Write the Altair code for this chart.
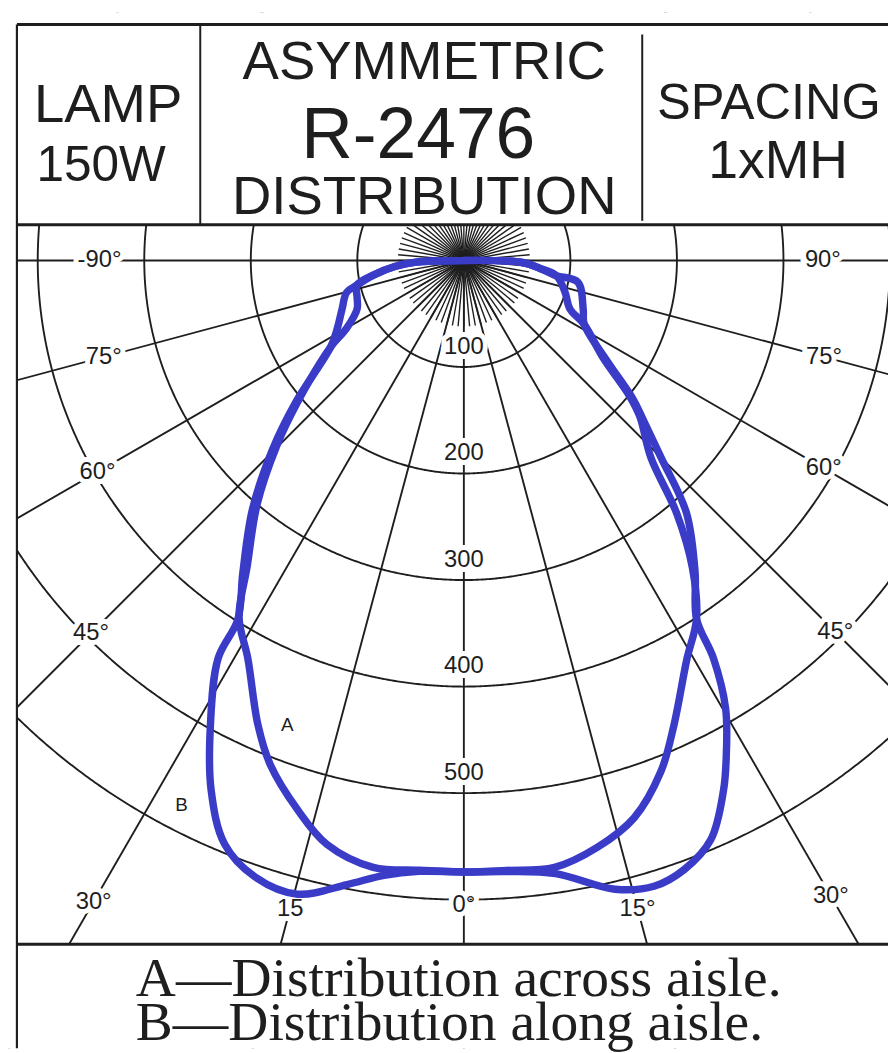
import altair as alt
import numpy as np
import pandas as pd

# ---------------- data ----------------
# angles in degrees from nadir (negative = left), intensities in candela
a_angle = [-90, -88, -85, -81, -77, -71, -65.6, -60, -57, -49.8, -45.3, -40.3, -35.3, -32.2,
           -28.5, -23.9, -21.0, -16.8, -13.2, -8.5, -4.2, 0, 4.0, 8.5, 12.8, 17.0, 21.1, 24.3,
           29.2, 33.0, 36.6, 40.1, 43.5, 48.4, 50.6, 55.1, 62.0, 65.4, 72.6, 80.7, 84, 88, 90]
a_cd = [0, 45, 65, 85, 103, 106, 110, 127, 149, 203, 247, 300, 352, 396,
        425, 477, 507, 539, 563, 576, 574, 574, 574, 576, 565, 547, 514, 479,
        429, 401, 360, 310, 255, 221, 202, 159, 128, 109.5, 99.5, 88, 72, 55, 0]

b_angle = [-90, -88, -85, -81, -77, -74.8, -68.3, -61.7, -57, -49.8, -45.3, -40.3, -35.3, -32.2,
           -31.7, -28.6, -25.5, -22.3, -18.7, -14.7, -10.6, -7.4, -4.2, 0, 4.0, 8.5, 13.5, 16.9, 19.9, 23.1,
           26.1, 27.8, 30.3, 32.1, 33.0, 36.6, 41.4, 45.0, 48.4, 50.6, 55.1, 62.0, 67.8, 79.2, 80.7, 84, 88, 90]
b_cd = [0, 45, 65, 85, 103, 114, 123, 135, 149, 207, 253, 307, 359, 398,
        439, 497, 551, 592, 611, 615, 596, 582, 575, 574, 575, 582, 607, 614, 608, 591,
        554, 528, 487, 441, 401, 364, 316, 262, 225, 206, 163, 128, 121, 109, 87, 72, 55, 0]

ring_values = [100, 200, 300, 400, 500, 600]
ring_label_values = [100, 200, 300, 400, 500]
angle_ticks = [-90, -75, -60, -45, -30, -15, 0, 15, 30, 45, 60, 75, 90]
angle_tick_labels = ["-90°", "75°", "60°", "45°", "30°", "15", "0°", "15°", "30°", "45°", "60°", "75°", "90°"]
fan_step = 5

header_left = ["LAMP", "150W"]
header_mid = ["ASYMMETRIC", "R-2476", "DISTRIBUTION"]
header_right = ["SPACING", "1xMH"]
footer_lines = ["A—Distribution across aisle.", "B—Distribution along aisle."]
curve_names = ["A", "B"]

# ---------------- layout / style constants ----------------
INK = "#1e1e1e"
BLUE = "#3a3cc8"
PX_PER_CD = 1.075
W, H = 888, 1045
CX, CY = 460, 250                 # pole position in chart pixels
FAN_R = 62                        # length of the dense 5-degree fan
label_radius = [342, 350, 397, 495, 695, 630, 605, 630, 689, 493, 390, 350, 337]
curve_label_pos = [(-20.8, 467), (-27.4, 576)]

x_dom = [(0 - CX) / PX_PER_CD, (W - CX) / PX_PER_CD]
y_dom = [-(H - CY) / PX_PER_CD, CY / PX_PER_CD]
xs = alt.Scale(domain=x_dom, nice=False, zero=False)
ys = alt.Scale(domain=y_dom, nice=False, zero=False)


def polar(theta_deg, r):
    t = np.radians(np.asarray(theta_deg, dtype=float))
    r = np.asarray(r, dtype=float)
    return r * np.sin(t), -r * np.cos(t)


X = lambda f: alt.X(f, scale=xs, axis=None)
Y = lambda f: alt.Y(f, scale=ys, axis=None)

# rings
rows = []
for rv in ring_values:
    th = np.arange(0, 360.25, 0.25)
    x, y = polar(th, np.full_like(th, rv))
    rows.append(pd.DataFrame({"x": x, "y": y, "ring": rv, "i": np.arange(len(th))}))
rings_df = pd.concat(rows)
rings = alt.Chart(rings_df).mark_line(color=INK, strokeWidth=1.9, clip=True).encode(
    x=X("x:Q"), y=Y("y:Q"), detail="ring:N", order="i:Q")

# fan of short radials and the main 15° radials
fan_th = np.arange(-180, 180, fan_step)
fx, fy = polar(fan_th, np.full(len(fan_th), float(FAN_R)))
fan_df = pd.DataFrame({"x": 0.0, "y": 0.0, "x2": fx, "y2": fy})
fan = alt.Chart(fan_df).mark_rule(color=INK, strokeWidth=1.4, clip=True).encode(
    x=X("x:Q"), y=Y("y:Q"), x2="x2:Q", y2="y2:Q")

mx, my = polar(angle_ticks, np.full(len(angle_ticks), 1300.0))
main_df = pd.DataFrame({"x": 0.0, "y": 0.0, "x2": mx, "y2": my})
radials = alt.Chart(main_df).mark_rule(color=INK, strokeWidth=1.9, clip=True).encode(
    x=X("x:Q"), y=Y("y:Q"), x2="x2:Q", y2="y2:Q")

# labels
lx, ly = polar(angle_ticks, label_radius)
alab_df = pd.DataFrame({"x": lx, "y": ly, "t": angle_tick_labels})
rx, ry = polar(np.zeros(len(ring_label_values)), np.array(ring_label_values) - 19)
rlab_df = pd.DataFrame({"x": rx, "y": ry, "t": [str(v) for v in ring_label_values]})
lab_df = pd.concat([alab_df, rlab_df])

halo = alt.Chart(lab_df).mark_text(font="Liberation Sans", fontSize=24, color="white",
                                   stroke="white", strokeWidth=10, align="center",
                                   baseline="middle").encode(x=X("x:Q"), y=Y("y:Q"), text="t:N")
labels = alt.Chart(lab_df).mark_text(font="Liberation Sans", fontSize=24, color=INK,
                                     align="center", baseline="middle").encode(
    x=X("x:Q"), y=Y("y:Q"), text="t:N")

cx_, cy_ = polar([p[0] for p in curve_label_pos], [p[1] for p in curve_label_pos])
clab = alt.Chart(pd.DataFrame({"x": cx_, "y": cy_, "t": curve_names})).mark_text(
    font="Liberation Sans", fontSize=19, color=INK, align="center", baseline="middle").encode(
    x=X("x:Q"), y=Y("y:Q"), text="t:N")

# curves
ax, ay = polar(a_angle, a_cd)
bx, by = polar(b_angle, b_cd)
curves_df = pd.concat([
    pd.DataFrame({"x": ax, "y": ay, "c": "A", "i": np.arange(len(ax))}),
    pd.DataFrame({"x": bx, "y": by, "c": "B", "i": np.arange(len(bx))}),
])
curves = alt.Chart(curves_df).mark_line(color=BLUE, strokeWidth=7.5, interpolate="catmull-rom",
                                        strokeCap="round", strokeJoin="round", clip=True).encode(
    x=X("x:Q"), y=Y("y:Q"), detail="c:N", order="i:Q")

# masks outside the diagram frame
one = pd.DataFrame({"k": [0]})


def mask(x0, x1, y0, y1):
    return alt.Chart(one).mark_rect(color="white").encode(
        x=alt.value(x0), x2=alt.value(x1), y=alt.value(y0), y2=alt.value(y1))


def rule(x0, x1, y0, y1, w):
    return alt.Chart(one).mark_rule(color=INK, strokeWidth=w).encode(
        x=alt.value(x0), x2=alt.value(x1), y=alt.value(y0), y2=alt.value(y1))


def text(t, x, y, size, font="Liberation Sans", align="center"):
    return alt.Chart(one).mark_text(text=t, font=font, fontSize=size, color=INK, align=align,
                                    baseline="alphabetic").encode(x=alt.value(x), y=alt.value(y))


masks = [mask(0, W, 0, 214), mask(0, 9, 0, H), mask(0, W, 940, H)]
frame = [
    rule(9, W, 12, 12, 3),
    rule(9, W, 214, 214, 3),
    rule(9, W, 940, 940, 3),
    rule(9, 9, 12, H, 2.2),
    rule(194, 194, 12, 214, 2),
    rule(640, 640, 22, 210, 2),
]
heads = [
    text(header_left[0], 101, 110, 55),
    text(header_left[1], 94, 170, 50),
    text(header_mid[0], 420, 67, 55),
    text(header_mid[1], 414, 147, 72),
    text(header_mid[2], 420, 203, 55),
    text(header_right[0], 655, 107, 51, align="left"),
    text(header_right[1], 777, 167, 54),
    text(footer_lines[0], 129, 992, 56, font="Liberation Serif", align="left"),
    text(footer_lines[1], 129, 1037, 56, font="Liberation Serif", align="left"),
]

chart = alt.layer(rings, fan, radials, halo, labels, clab, curves, *masks, *frame, *heads).properties(
    width=W, height=H, autosize=alt.AutoSizeParams(type="none"), padding=0,
    background="white").configure_view(stroke=None)

chart.save("out.html", embed_options={"renderer": "svg", "actions": False})
